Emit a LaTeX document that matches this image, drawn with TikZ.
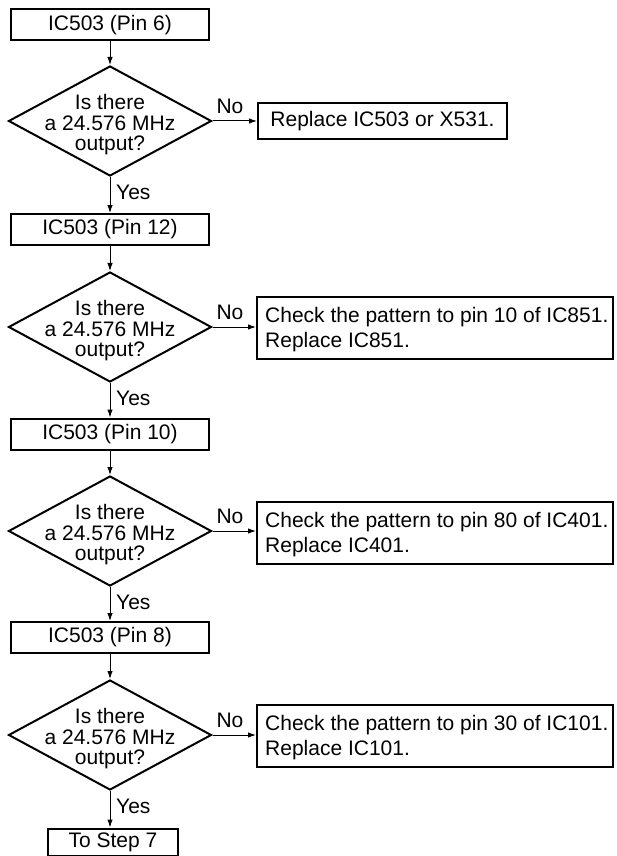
\documentclass[tikz,border=0pt]{standalone}
\usepackage{fontspec}
\setmainfont{Liberation Sans}
\usetikzlibrary{shapes.geometric,arrows.meta}

\tikzset{
  txt/.style={font=\fontsize{21pt}{20.5pt}\selectfont},
  stepbox/.style={txt, draw, line width=2pt, inner sep=0pt,
    minimum width=198pt, minimum height=31pt},
  endbox/.style={txt, draw, line width=2pt, inner sep=0pt,
    minimum width=130pt, minimum height=27pt},
  query/.style={diamond, draw, line width=2pt, inner sep=0pt,
    minimum width=203pt, minimum height=110pt},
  querytext/.style={txt, align=center, inner sep=0pt},
  fixbox/.style={draw, line width=2pt, inner sep=0pt,
    minimum width=356pt, minimum height=62pt},
  fixtext/.style={anchor=west, align=left, inner sep=0pt,
    font=\fontsize{21pt}{25pt}\selectfont},
  replbox/.style={txt, draw, line width=2pt, inner xsep=9pt,
    minimum width=249pt, minimum height=36pt},
  tag/.style={txt, inner sep=0pt},
  flow/.style={-{Latex[length=8pt,width=5.5pt]}, line width=1pt},
}

\newcommand{\qtext}{Is there\\a 24.576 MHz\\output?}

\begin{document}
\begin{tikzpicture}[x=1pt,y=-1pt]
  \useasboundingbox (0,0) rectangle (616,856);

  % stage 1: pin 6
  \node[stepbox] (s1) at (110,25) {IC503 (Pin 6)};
  \node[query] (q1) at (110,121) {};
  \node[querytext] (q1t) at (110,125) {\qtext};
  \node[replbox] (r1) at (382.5,121) {Replace IC503 or X531.};
  \node[tag] (n1) at (230,106) {No};
  \node[tag, anchor=west] (y1) at (116,192) {Yes};

  % stage 2: pin 12
  \node[stepbox] (s2) at (110,229.5) {IC503 (Pin 12)};
  \node[query] (q2) at (110,327) {};
  \node[querytext] (q2t) at (110,331) {\qtext};
  \node[fixbox] (r2) at (435,328) {};
  \node[fixtext] (r2t) at (265,330) {Check the pattern to pin 10 of IC851.\\Replace IC851.};
  \node[tag] (n2) at (230,312) {No};
  \node[tag, anchor=west] (y2) at (116,398) {Yes};

  % stage 3: pin 10
  \node[stepbox] (s3) at (110,434) {IC503 (Pin 10)};
  \node[query] (q3) at (110,531) {};
  \node[querytext] (q3t) at (110,535) {\qtext};
  \node[fixbox] (r3) at (435,532.5) {};
  \node[fixtext] (r3t) at (265,534.5) {Check the pattern to pin 80 of IC401.\\Replace IC401.};
  \node[tag] (n3) at (230,516) {No};
  \node[tag, anchor=west] (y3) at (116,602) {Yes};

  % stage 4: pin 8
  \node[stepbox] (s4) at (110,637.5) {IC503 (Pin 8)};
  \node[query] (q4) at (110,735) {};
  \node[querytext] (q4t) at (110,739) {\qtext};
  \node[fixbox] (r4) at (435,736) {};
  \node[fixtext] (r4t) at (265,738) {Check the pattern to pin 30 of IC101.\\Replace IC101.};
  \node[tag] (n4) at (230,720) {No};
  \node[tag, anchor=west] (y4) at (116,806) {Yes};

  % exit
  \node[endbox] (e) at (113,842) {To Step 7};

  % vertical flow
  \draw[flow] (s1) -- (q1);
  \draw[flow] (q1) -- (s2);
  \draw[flow] (s2) -- (q2);
  \draw[flow] (q2) -- (s3);
  \draw[flow] (s3) -- (q3);
  \draw[flow] (q3) -- (s4);
  \draw[flow] (s4) -- (q4);
  \draw[flow] (q4.south) -- (q4.south |- e.north);

  % "No" branches
  \draw[flow] (q1.east) -- (r1.west |- q1.east);
  \draw[flow] (q2.east) -- (r2.west |- q2.east);
  \draw[flow] (q3.east) -- (r3.west |- q3.east);
  \draw[flow] (q4.east) -- (r4.west |- q4.east);
\end{tikzpicture}
\end{document}
